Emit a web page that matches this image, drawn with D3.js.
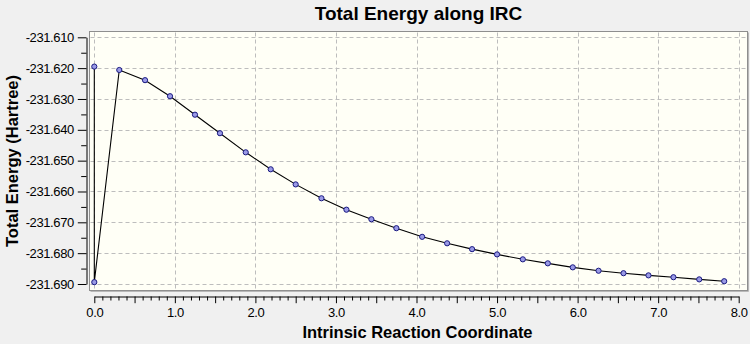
<!DOCTYPE html>
<html>
<head>
<meta charset="utf-8">
<script src="https://cdn.jsdelivr.net/npm/d3@7/dist/d3.min.js"></script>
<style>
  html, body { margin: 0; padding: 0; background: #F0F0F0; }
  svg { display: block; font-family: "Liberation Sans", Arial, sans-serif; }
</style>
</head>
<body>
<svg id="chart" width="750" height="344"></svg>
<script>
const titleText = "Total Energy along IRC";
const xLabel = "Intrinsic Reaction Coordinate";
const yLabel = "Total Energy (Hartree)";

const ircX = [0.00, 0.00, 0.31, 0.63, 0.94, 1.25, 1.56, 1.88, 2.19, 2.50, 2.82, 3.13, 3.44, 3.75, 4.07, 4.38, 4.69, 5.00, 5.32, 5.63, 5.94, 6.26, 6.57, 6.88, 7.19, 7.51, 7.82];
const energy = [-231.6195, -231.6894, -231.6206, -231.6239, -231.6291, -231.6351, -231.6411, -231.6473, -231.6528, -231.6577, -231.6622, -231.6659, -231.6690, -231.6719, -231.6747, -231.6768, -231.6787, -231.6804, -231.6820, -231.6833, -231.6846, -231.6857, -231.6865, -231.6872, -231.6878, -231.6885, -231.6891];

const xMajorTicks = [0, 1, 2, 3, 4, 5, 6, 7, 8];
const xMidTicks = [0.5, 1.5, 2.5, 3.5, 4.5, 5.5, 6.5, 7.5];
const xMinorTicks = [0.1,0.2,0.3,0.4,0.6,0.7,0.8,0.9,1.1,1.2,1.3,1.4,1.6,1.7,1.8,1.9,2.1,2.2,2.3,2.4,2.6,2.7,2.8,2.9,3.1,3.2,3.3,3.4,3.6,3.7,3.8,3.9,4.1,4.2,4.3,4.4,4.6,4.7,4.8,4.9,5.1,5.2,5.3,5.4,5.6,5.7,5.8,5.9,6.1,6.2,6.3,6.4,6.6,6.7,6.8,6.9,7.1,7.2,7.3,7.4,7.6,7.7,7.8,7.9];
const yMajorTicks = [-231.690, -231.680, -231.670, -231.660, -231.650, -231.640, -231.630, -231.620, -231.610];
const yMinorTicks = [-231.685, -231.675, -231.665, -231.655, -231.645, -231.635, -231.625, -231.615];

const svg = d3.select("#chart");

const plot = { left: 89.5, top: 31.5, right: 747.5, bottom: 290.5 };

const x = d3.scaleLinear().domain([0, 8]).range([94.3, 738.7]);
const y = d3.scaleLinear().domain([-231.690, -231.610]).range([284, 37.3]);

// plot area
svg.append("rect")
  .attr("x", plot.left).attr("y", plot.top)
  .attr("width", plot.right - plot.left).attr("height", plot.bottom - plot.top)
  .attr("fill", "#FFFFF6")
  .attr("stroke", "#8E8E8E").attr("stroke-width", 1);
svg.append("path")
  .attr("d", `M${plot.left + 1},${plot.bottom + 1}H${plot.right + 1}V${plot.top + 1}`)
  .attr("fill", "none").attr("stroke", "#B8B8B8").attr("stroke-width", 1);

// gridlines
const grid = svg.append("g").attr("stroke", "#BDBDBD").attr("stroke-width", 1).attr("stroke-dasharray", "4,3");
grid.selectAll("line.v").data(xMajorTicks).join("line")
  .attr("x1", d => Math.round(x(d)) + 0.5).attr("x2", d => Math.round(x(d)) + 0.5)
  .attr("y1", plot.top + 1).attr("y2", plot.bottom - 1);
grid.selectAll("line.h").data(yMajorTicks).join("line")
  .attr("y1", d => Math.round(y(d)) + 0.5).attr("y2", d => Math.round(y(d)) + 0.5)
  .attr("x1", plot.left + 1).attr("x2", plot.right - 1);

// data line
const line = d3.line().x((d, i) => x(ircX[i])).y(d => y(d));
svg.append("path")
  .attr("d", line(energy))
  .attr("fill", "none").attr("stroke", "#000").attr("stroke-width", 1.1);

svg.append("g").selectAll("circle").data(energy).join("circle")
  .attr("cx", (d, i) => x(ircX[i])).attr("cy", d => y(d))
  .attr("r", 2.6)
  .attr("fill", "#9A9AE6").attr("stroke", "#1A1A80").attr("stroke-width", 1);

// axes
const fmtY = d => d.toFixed(3);
const fmtX = d => d.toFixed(1);

const yAxis = svg.append("g").attr("transform", "translate(86.5,0)")
  .call(d3.axisLeft(y).tickValues(yMajorTicks).tickFormat(fmtY).tickSize(8.7).tickSizeOuter(0).tickPadding(4));
svg.append("g").attr("transform", "translate(86.5,0)")
  .call(d3.axisLeft(y).tickValues(yMinorTicks).tickFormat("").tickSize(5.3).tickSizeOuter(0))
  .select(".domain").remove();

const xAxis = svg.append("g").attr("transform", "translate(0,296.5)")
  .call(d3.axisBottom(x).tickValues(xMajorTicks).tickFormat(fmtX).tickSize(6.7).tickSizeOuter(0).tickPadding(4.1));
svg.append("g").attr("transform", "translate(0,296.5)")
  .call(d3.axisBottom(x).tickValues(xMidTicks).tickFormat("").tickSize(6.7).tickSizeOuter(0))
  .select(".domain").remove();
svg.append("g").attr("transform", "translate(0,296.5)")
  .call(d3.axisBottom(x).tickValues(xMinorTicks).tickFormat("").tickSize(4).tickSizeOuter(0))
  .select(".domain").remove();

svg.selectAll(".tick line, .domain").attr("stroke", "#000");
svg.selectAll(".tick text")
  .attr("font-family", "'Liberation Sans', Arial, sans-serif")
  .attr("font-size", 13).attr("letter-spacing", "-0.4px").attr("fill", "#000");

// titles
svg.append("text")
  .attr("x", 418.5).attr("y", 20)
  .attr("text-anchor", "middle")
  .attr("font-size", 19).attr("font-weight", "bold").attr("fill", "#000")
  .text(titleText);

svg.append("text")
  .attr("x", 417.5).attr("y", 338)
  .attr("text-anchor", "middle")
  .attr("font-size", 16.5).attr("font-weight", "bold").attr("fill", "#000")
  .text(xLabel);

svg.append("text")
  .attr("transform", "translate(17.5,161) rotate(-90)")
  .attr("text-anchor", "middle")
  .attr("font-size", 16.5).attr("font-weight", "bold").attr("fill", "#000")
  .text(yLabel);
</script>
</body>
</html>
